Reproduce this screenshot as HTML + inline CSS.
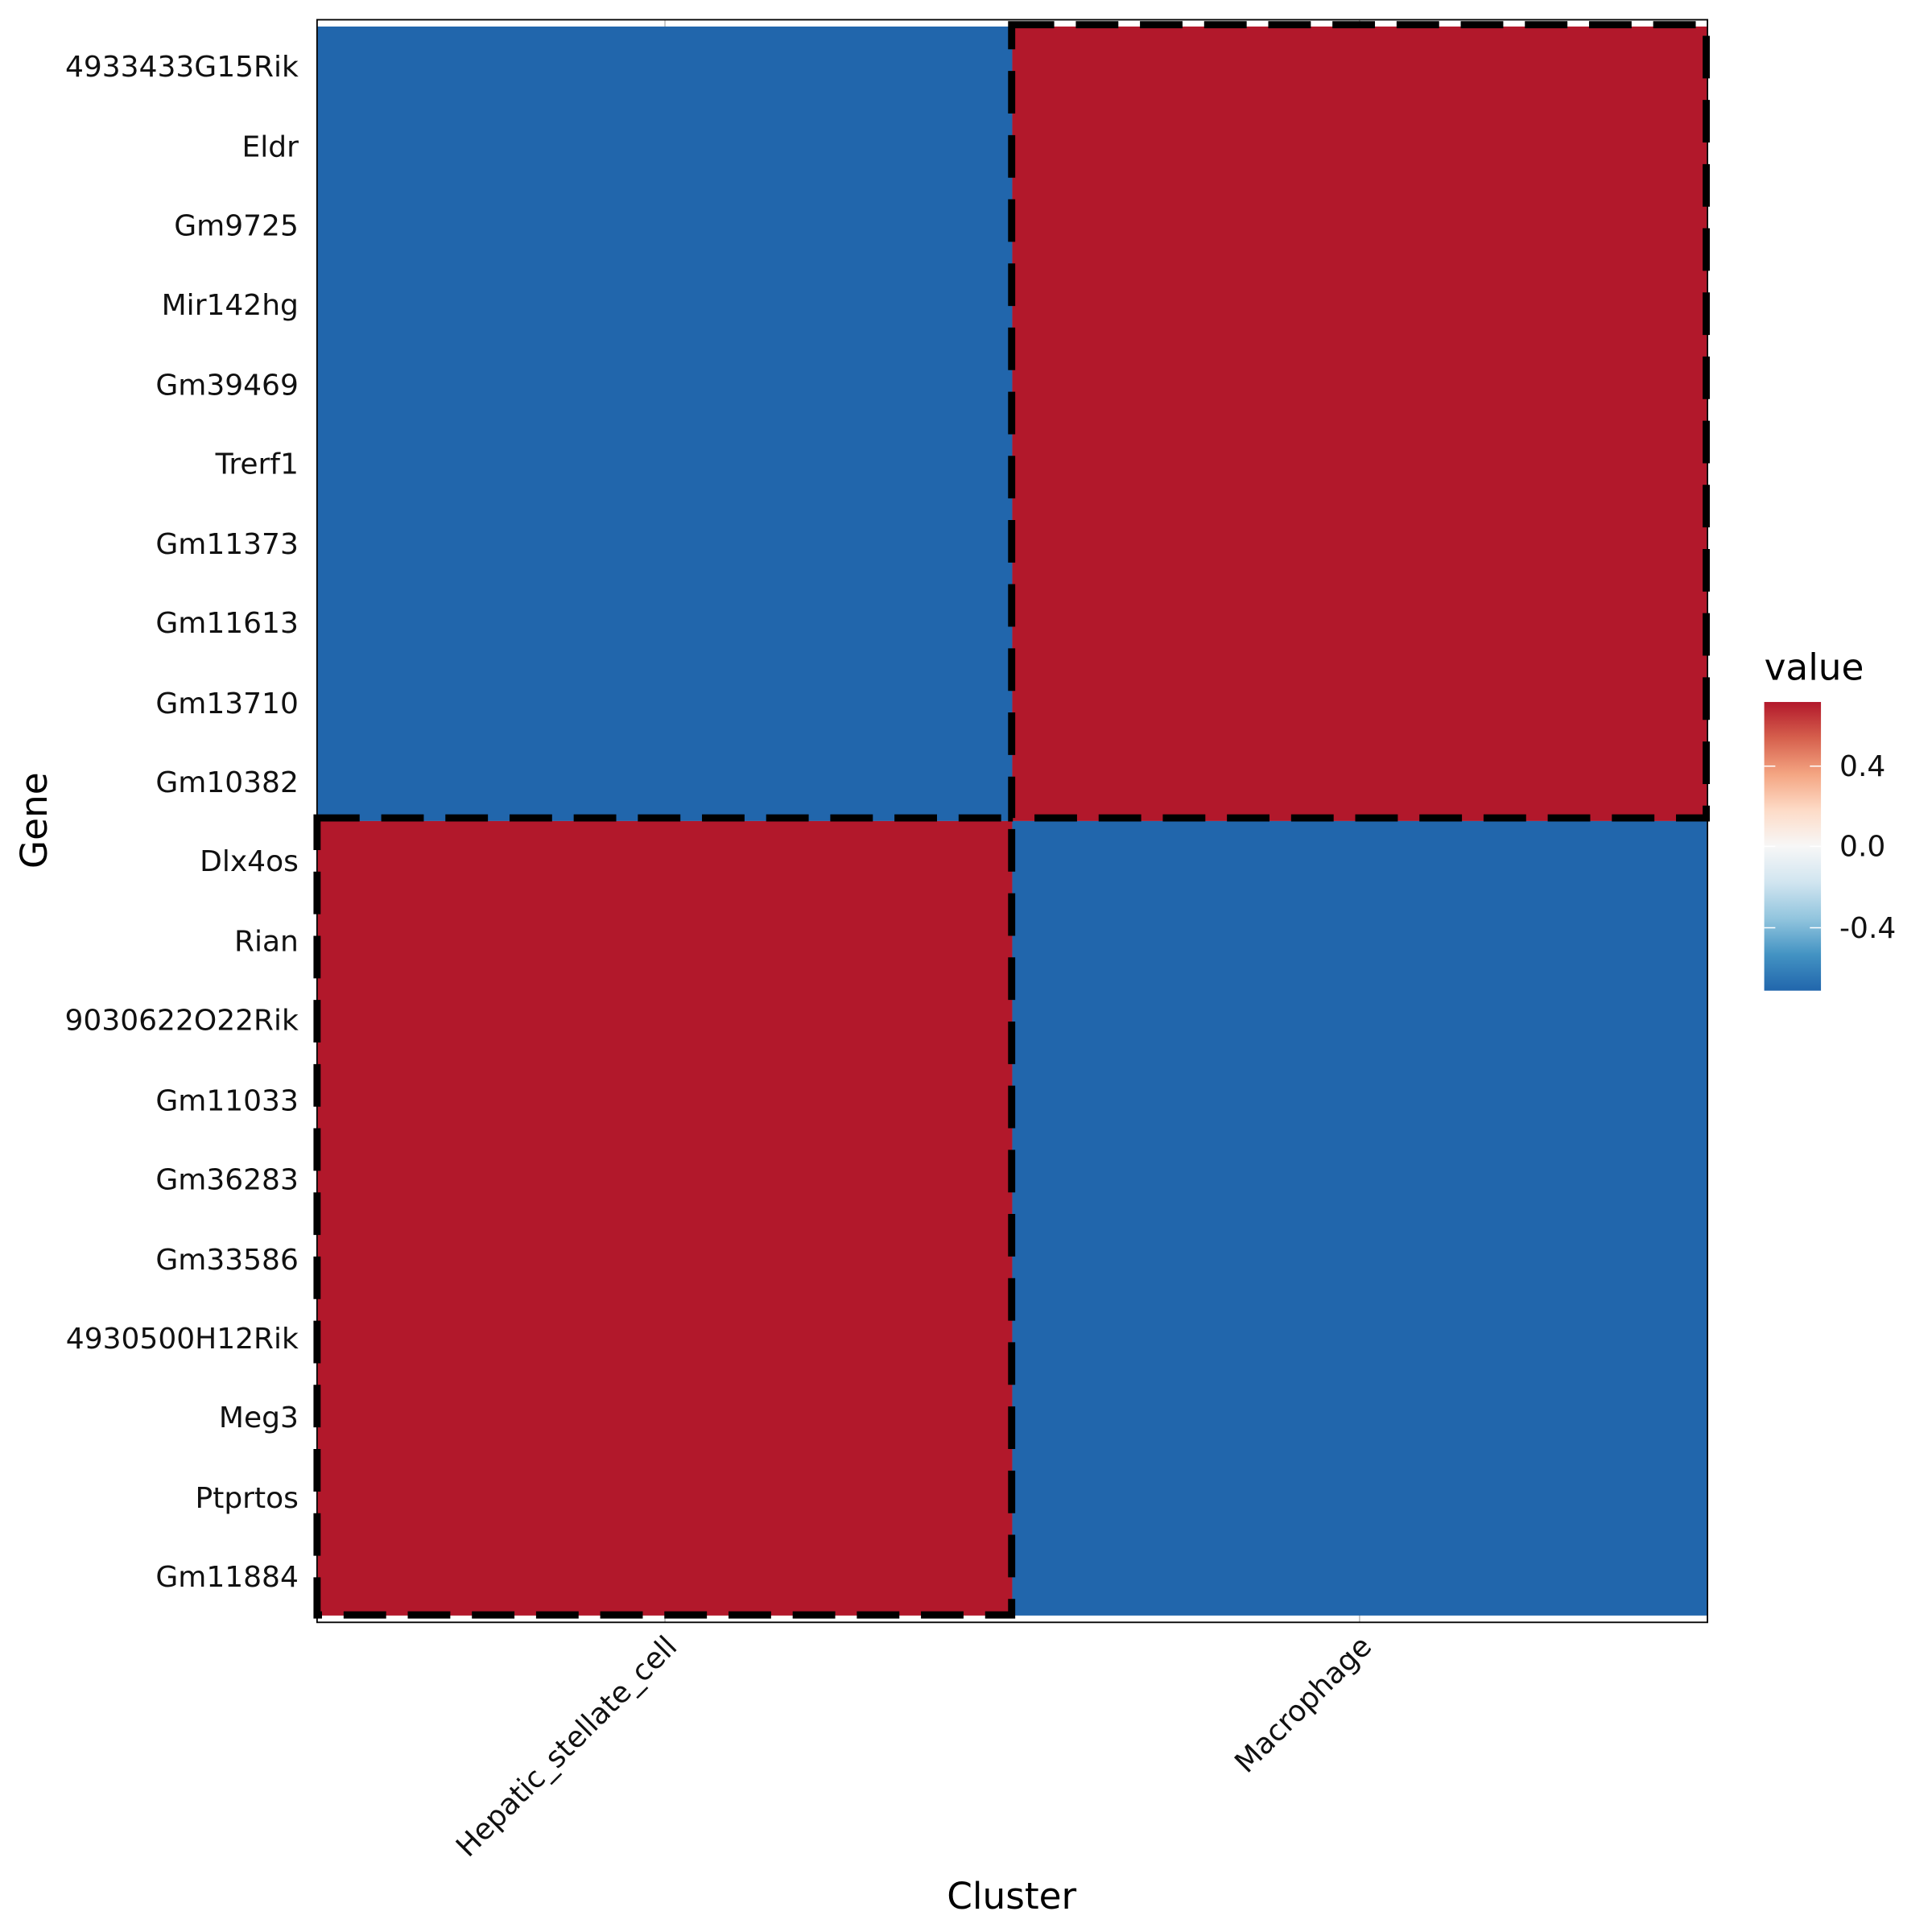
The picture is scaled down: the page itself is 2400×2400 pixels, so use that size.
<!DOCTYPE html>
<html><head><meta charset="utf-8"><style>html,body{margin:0;padding:0;background:#fff}svg{display:block}</style></head>
<body>
<svg width="2400" height="2400" viewBox="0 0 1566 1566" xmlns="http://www.w3.org/2000/svg" font-family="'DejaVu Sans','Liberation Sans',sans-serif">
<defs>
<linearGradient id="g" x1="0" y1="0" x2="0" y2="1">
<stop offset="0" stop-color="#B2182B"/>
<stop offset="0.125" stop-color="#D6604D"/>
<stop offset="0.25" stop-color="#F4A582"/>
<stop offset="0.375" stop-color="#FDDBC7"/>
<stop offset="0.5" stop-color="#F7F7F7"/>
<stop offset="0.625" stop-color="#D1E5F0"/>
<stop offset="0.75" stop-color="#92C5DE"/>
<stop offset="0.875" stop-color="#4393C3"/>
<stop offset="1" stop-color="#2166AC"/>
</linearGradient>
</defs>
<rect x="0" y="0" width="1566" height="1566" fill="#fff"/>
<line x1="539" y1="16" x2="539" y2="1315" stroke="#bbb" stroke-width="1"/>
<line x1="1102" y1="16" x2="1102" y2="1315" stroke="#bbb" stroke-width="1"/>
<rect x="257.5" y="21.5" width="563" height="644" fill="#2166AC"/>
<rect x="820.5" y="21.5" width="563" height="644" fill="#B2182B"/>
<rect x="257.5" y="665.5" width="563" height="644" fill="#B2182B"/>
<rect x="820.5" y="665.5" width="563" height="644" fill="#2166AC"/>
<rect x="257" y="16" width="1127" height="1299" fill="none" stroke="#000" stroke-width="1.2"/>
<g fill="none" stroke="#000" stroke-width="5.8" stroke-dasharray="34.5 17.5">
<rect x="820" y="20" width="563" height="643"/>
<rect x="257" y="663" width="563" height="646"/>
</g>
<g font-size="23.5" fill="#111" text-anchor="end">
<text x="242" y="62">4933433G15Rik</text>
<text x="242" y="127">Eldr</text>
<text x="242" y="191">Gm9725</text>
<text x="242" y="255">Mir142hg</text>
<text x="242" y="320">Gm39469</text>
<text x="242" y="384">Trerf1</text>
<text x="242" y="449">Gm11373</text>
<text x="242" y="513">Gm11613</text>
<text x="242" y="578">Gm13710</text>
<text x="242" y="642">Gm10382</text>
<text x="242" y="706">Dlx4os</text>
<text x="242" y="771">Rian</text>
<text x="242" y="835">9030622O22Rik</text>
<text x="242" y="900">Gm11033</text>
<text x="242" y="964">Gm36283</text>
<text x="242" y="1029">Gm33586</text>
<text x="242" y="1093">4930500H12Rik</text>
<text x="242" y="1157">Meg3</text>
<text x="242" y="1222">Ptprtos</text>
<text x="242" y="1286">Gm11884</text>
</g>
<g font-size="23.5" fill="#111" text-anchor="end">
<text transform="translate(550,1336) rotate(-45)">Hepatic_stellate_cell</text>
<text transform="translate(1113,1336) rotate(-45)">Macrophage</text>
</g>
<text x="820" y="1547" font-size="29.6" text-anchor="middle" fill="#000">Cluster</text>
<text transform="translate(38,665) rotate(-90)" font-size="29.6" text-anchor="middle" fill="#000">Gene</text>
<text x="1430" y="551" font-size="29.6" fill="#000">value</text>
<rect x="1430" y="569" width="46" height="234" fill="url(#g)"/>
<g stroke="#fff" stroke-width="1">
<line x1="1430" y1="621" x2="1439" y2="621"/><line x1="1467" y1="621" x2="1476" y2="621"/>
<line x1="1430" y1="686" x2="1439" y2="686"/><line x1="1467" y1="686" x2="1476" y2="686"/>
<line x1="1430" y1="752" x2="1439" y2="752"/><line x1="1467" y1="752" x2="1476" y2="752"/>
</g>
<g font-size="23.5" fill="#111">
<text x="1491" y="629">0.4</text>
<text x="1491" y="694">0.0</text>
<text x="1491" y="760">-0.4</text>
</g>
</svg>
</body></html>
